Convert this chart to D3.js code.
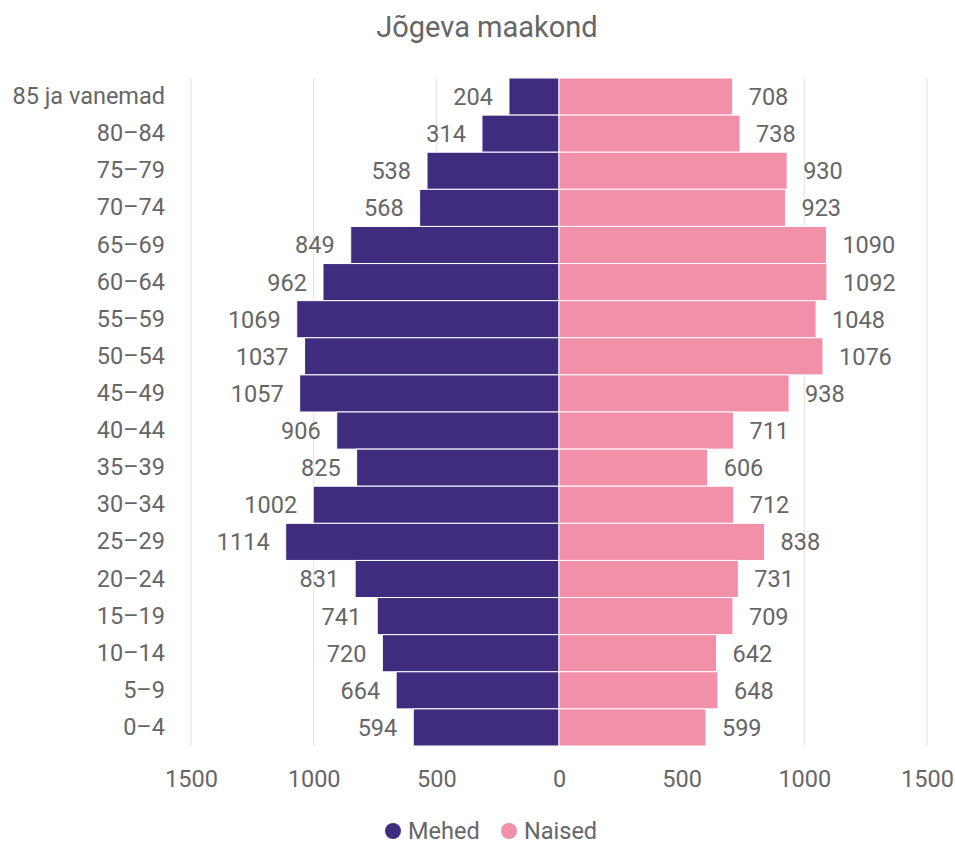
<!DOCTYPE html>
<html>
<head>
<meta charset="utf-8">
<script src="https://cdn.jsdelivr.net/npm/d3@7"></script>
<style>
  body { margin: 0; background: #fff; }
  text { font-family: Roboto, "Noto Sans", sans-serif; fill: #666; }
</style>
</head>
<body>
<div id="vis"></div>
<script>
var ageGroups = ['85 ja vanemad', '80–84', '75–79', '70–74', '65–69', '60–64', '55–59', '50–54',
                 '45–49', '40–44', '35–39', '30–34', '25–29', '20–24', '15–19', '10–14', '5–9', '0–4'];
var men   = [204, 314, 538, 568, 849, 962, 1069, 1037, 1057, 906, 825, 1002, 1114, 831, 741, 720, 664, 594];
var women = [708, 738, 930, 923, 1090, 1092, 1048, 1076, 938, 711, 606, 712, 838, 731, 709, 642, 648, 599];
var xTicks = [-1500, -1000, -500, 0, 500, 1000, 1500];
var seriesNames = ['Mehed', 'Naised'];
var colors = ['#402c7f', '#f28fa9'];

var width = 955, height = 845;
var margin = { left: 191, right: 28, top: 78, bottom: 99 };
var drawWidth = width - margin.left - margin.right,
    drawHeight = height - margin.top - margin.bottom;
var fontSize = '23.5px';

var svg = d3.select('#vis').append('svg')
            .attr('width', width)
            .attr('height', height);

svg.append('text')
   .attr('x', 487)
   .attr('y', 37)
   .attr('text-anchor', 'middle')
   .style('font-size', '29px')
   .text('Jõgeva maakond');

var g = svg.append('g')
           .attr('transform', `translate(${margin.left}, ${margin.top})`);

var xScale = d3.scaleLinear().domain([-1500, 1500]).range([0, drawWidth]);
var yScale = d3.scaleBand().domain(ageGroups).range([0, drawHeight]).padding(0);

// gridlines
g.append('g')
 .selectAll('line')
 .data(xTicks.filter(d => d !== 0))
 .enter().append('line')
 .attr('x1', d => xScale(d)).attr('x2', d => xScale(d))
 .attr('y1', 0).attr('y2', drawHeight)
 .attr('stroke', '#e0e0e0')
 .attr('stroke-width', 1);

var rows = ageGroups.map((a, i) => ({ age: a, men: men[i], women: women[i] }));

g.selectAll('rect.men')
 .data(rows).enter().append('rect')
 .attr('class', 'men')
 .attr('x', d => xScale(-d.men))
 .attr('y', d => yScale(d.age))
 .attr('width', d => xScale(0) - xScale(-d.men))
 .attr('height', yScale.bandwidth())
 .attr('fill', colors[0])
 .attr('stroke', '#fff')
 .attr('stroke-width', 1);

g.selectAll('rect.women')
 .data(rows).enter().append('rect')
 .attr('class', 'women')
 .attr('x', xScale(0))
 .attr('y', d => yScale(d.age))
 .attr('width', d => xScale(d.women) - xScale(0))
 .attr('height', yScale.bandwidth())
 .attr('fill', colors[1])
 .attr('stroke', '#fff')
 .attr('stroke-width', 1);

// value labels
g.selectAll('text.menLabel')
 .data(rows).enter().append('text')
 .attr('x', d => xScale(-d.men) - 16)
 .attr('y', d => yScale(d.age) + yScale.bandwidth() / 2)
 .attr('dy', '0.36em')
 .attr('text-anchor', 'end')
 .style('font-size', fontSize)
 .text(d => d.men);

g.selectAll('text.womenLabel')
 .data(rows).enter().append('text')
 .attr('x', d => xScale(d.women) + 16)
 .attr('y', d => yScale(d.age) + yScale.bandwidth() / 2)
 .attr('dy', '0.36em')
 .attr('text-anchor', 'start')
 .style('font-size', fontSize)
 .text(d => d.women);

// y axis (categories)
var yAxis = d3.axisLeft(yScale).tickSize(0).tickPadding(26);
var yAxisG = g.append('g').call(yAxis);
yAxisG.select('.domain').remove();
yAxisG.selectAll('text').style('font-size', fontSize).attr('fill', '#666');

// x axis
var xAxis = d3.axisBottom(xScale).tickValues(xTicks).tickSize(0).tickPadding(24)
              .tickFormat(d => Math.abs(d));
var xAxisG = g.append('g').attr('transform', `translate(0, ${drawHeight})`).call(xAxis);
xAxisG.select('.domain').remove();
xAxisG.selectAll('text').style('font-size', fontSize).attr('fill', '#666');

// legend
var legend = svg.append('g').attr('transform', 'translate(393, 831)');
var legendX = [0, 116];
seriesNames.forEach((name, i) => {
  var lg = legend.append('g').attr('transform', `translate(${legendX[i]}, 0)`);
  lg.append('circle').attr('r', 8).attr('fill', colors[i]);
  lg.append('text')
    .attr('x', 15)
    .attr('dy', '0.35em')
    .style('font-size', fontSize)
    .text(name);
});
</script>
</body>
</html>
